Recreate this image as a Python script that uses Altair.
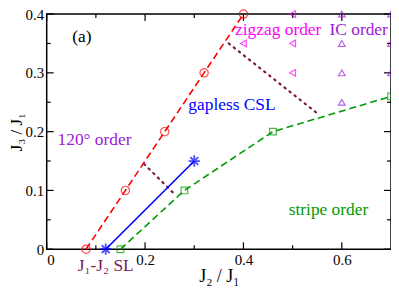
import altair as alt
import pandas as pd

# ---- data ----
red_x = [0.08, 0.16, 0.24, 0.32, 0.40]
red_y = [0.0, 0.1, 0.2, 0.3, 0.4]
blue_x = [0.12, 0.30]
blue_y = [0.0, 0.15]
green_x = [0.15, 0.28, 0.46, 0.70]
green_y = [0.0, 0.1, 0.2, 0.26]
dot1_x = [0.37, 0.555]
dot1_y = [0.35, 0.228]
dot2_x = [0.198, 0.262]
dot2_y = [0.145, 0.092]
zig_x = [0.4, 0.5, 0.5, 0.5]
zig_y = [0.35, 0.4, 0.35, 0.3]
ic_x = [0.6, 0.6, 0.6, 0.6, 0.7, 0.7, 0.7]
ic_y = [0.4, 0.35, 0.3, 0.25, 0.4, 0.35, 0.3]

lab_text = ["(a)", "zigzag order", "IC order", "gapless CSL", "120° order", "stripe order", "J₁-J₂ SL"]
lab_x = [0.052, 0.383, 0.575, 0.288, 0.022, 0.492, 0.063]
lab_y = [0.352, 0.365, 0.365, 0.236, 0.178, 0.058, -0.0365]
lab_color = ["black", "#ff00ff", "#9a20d8", "#0000ff", "#9a20d8", "#009a00", "#7a1a5a"]

x_major = [0.0, 0.2, 0.4, 0.6]
x_minor = [0.1, 0.3, 0.5]
y_major = [0.0, 0.1, 0.2, 0.3, 0.4]
y_minor = [0.05, 0.15, 0.25, 0.35]

W, H = 347, 237
FONT = "Liberation Serif"

xs = alt.Scale(domain=[0, 0.7], nice=False, zero=False)
ys = alt.Scale(domain=[0, 0.4], nice=False, zero=False)

xaxis = alt.Axis(
    values=x_major, labelExpr="datum.value == 0 ? '0' : format(datum.value, '.1f')",
    ticks=False, domain=False, grid=False, labelFont=FONT, labelFontSize=15,
    labelColor="black", labelPadding=3, title="J₂ / J₁", titleFont=FONT,
    titleFontSize=18, titleFontWeight="normal", titleColor="black", titlePadding=1)
yaxis = alt.Axis(
    values=y_major, labelExpr="datum.value == 0 ? '0' : format(datum.value, '.1f')",
    ticks=False, domain=False, grid=False, labelFont=FONT, labelFontSize=15,
    labelColor="black", labelPadding=3, title="J₃ / J₁", titleFont=FONT,
    titleFontSize=17, titleFontWeight="normal", titleColor="black", titlePadding=0)

def df(x, y):
    return pd.DataFrame({"x": x, "y": y})

X = alt.X("x:Q", scale=xs, axis=xaxis)
Y = alt.Y("y:Q", scale=ys, axis=yaxis)

def ticks_x(vals, length):
    d = pd.DataFrame({"x": vals})
    bot = alt.Chart(d).mark_rule(color="black", strokeWidth=1.2).encode(
        x=X, y=alt.value(H), y2=alt.value(H - length))
    top = alt.Chart(d).mark_rule(color="black", strokeWidth=1.2).encode(
        x=X, y=alt.value(0), y2=alt.value(length))
    return bot + top

def ticks_y(vals, length):
    d = pd.DataFrame({"y": vals})
    left = alt.Chart(d).mark_rule(color="black", strokeWidth=1.2).encode(
        y=Y, x=alt.value(0), x2=alt.value(length))
    right = alt.Chart(d).mark_rule(color="black", strokeWidth=1.2).encode(
        y=Y, x=alt.value(W), x2=alt.value(W - length))
    return left + right

red_line = alt.Chart(df(red_x, red_y)).mark_line(color="#ff0000", strokeDash=[7, 4], strokeWidth=1.6).encode(x=X, y=Y)
red_pts = alt.Chart(df(red_x, red_y)).mark_point(shape="circle", filled=False, color="#ff0000", size=70, strokeWidth=1.2).encode(x=X, y=Y)

blue_line = alt.Chart(df(blue_x, blue_y)).mark_line(color="#0000ff", strokeWidth=1.6).encode(x=X, y=Y)
star = "M0,-1L0,1M-1,0L1,0M-0.7,-0.7L0.7,0.7M-0.7,0.7L0.7,-0.7"
blue_pts = alt.Chart(df(blue_x, blue_y)).mark_point(shape=star, filled=False, color="#0000ff", size=130, strokeWidth=1.8).encode(x=X, y=Y)

green_line = alt.Chart(df(green_x, green_y)).mark_line(color="#009a00", strokeDash=[7, 4], strokeWidth=1.6).encode(x=X, y=Y)
green_pts = alt.Chart(df(green_x, green_y)).mark_point(shape="square", filled=False, color="#009a00", size=45, strokeWidth=1.2).encode(x=X, y=Y)

dot1 = alt.Chart(df(dot1_x, dot1_y)).mark_line(color="#7a1a4a", strokeDash=[1.5, 5], strokeCap="round", strokeWidth=2.2).encode(x=X, y=Y)
dot2 = alt.Chart(df(dot2_x, dot2_y)).mark_line(color="#7a1a4a", strokeDash=[1.5, 5], strokeCap="round", strokeWidth=2.2).encode(x=X, y=Y)

zig = alt.Chart(df(zig_x, zig_y)).mark_point(shape="triangle-left", filled=False, color="#ff00ff", size=45, strokeWidth=1.2).encode(x=X, y=Y)
ic = alt.Chart(df(ic_x, ic_y)).mark_point(shape="triangle-up", filled=False, color="#9a20d8", size=45, strokeWidth=1.2).encode(x=X, y=Y)

labels = alt.Chart(pd.DataFrame({"t": lab_text, "x": lab_x, "y": lab_y, "c": lab_color})).mark_text(
    align="left", baseline="alphabetic", font=FONT, fontSize=17.5).encode(
    x=X, y=Y, text="t:N", color=alt.Color("c:N", scale=None))

chart = alt.layer(
    ticks_x(x_major, 7), ticks_x(x_minor, 4), ticks_y(y_major, 7), ticks_y(y_minor, 4),
    dot1, dot2, red_line, green_line, blue_line,
    red_pts, green_pts, blue_pts, zig, ic, labels,
).properties(
    width=W, height=H,
    autosize=alt.AutoSizeParams(type="none"),
    padding={"left": 39, "top": 5, "right": 0, "bottom": 40},
).configure_view(stroke="black", strokeWidth=1.5)

chart.save("out.html", embed_options={"renderer": "svg", "actions": False})
